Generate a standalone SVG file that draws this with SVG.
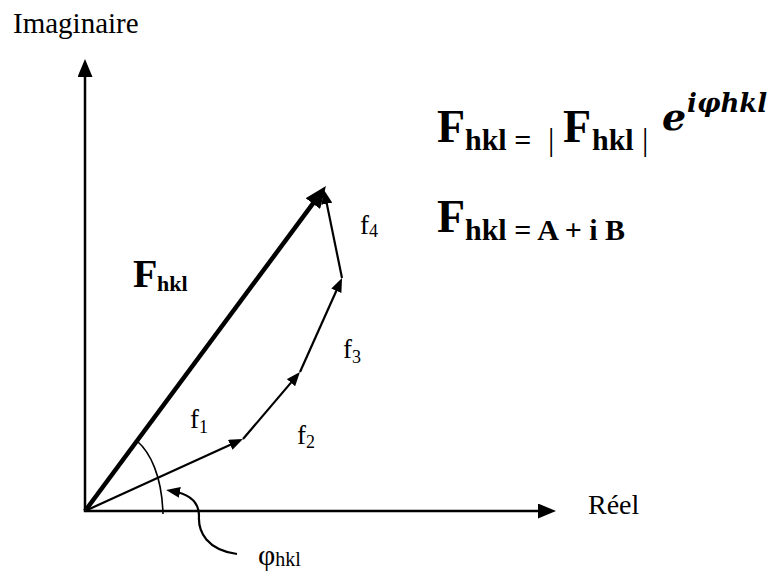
<svg xmlns="http://www.w3.org/2000/svg" width="771" height="573" viewBox="0 0 771 573">
  <style>
    .t { font-family: "Liberation Serif", "Times New Roman", serif; fill: #000; }
    .b { font-weight: bold; }
    .m { font-family: "DejaVu Serif", "Liberation Serif", serif; font-weight: bold; font-style: italic; fill: #000; }
    .ax { stroke: #000; stroke-width: 2.5; fill: none; }
    .v { stroke: #000; stroke-width: 2.2; fill: none; }
    .big { stroke: #000; stroke-width: 4.5; fill: none; }
    .thin { stroke: #000; stroke-width: 1.6; fill: none; }
  </style>
  <defs>
    <marker id="axisHead" markerUnits="userSpaceOnUse" viewBox="0 0 18 15" markerWidth="18" markerHeight="15" refX="10" refY="7.5" orient="auto">
      <path d="M0,0 L18,7.5 L0,15 z" fill="#000"/>
    </marker>
    <marker id="vecHead" markerUnits="userSpaceOnUse" viewBox="0 0 14 11" markerWidth="14" markerHeight="11" refX="8" refY="5.5" orient="auto">
      <path d="M0,0 L14,5.5 L0,11 z" fill="#000"/>
    </marker>
    <marker id="bigHead" markerUnits="userSpaceOnUse" viewBox="0 0 22 18" markerWidth="22" markerHeight="18" refX="14" refY="9" orient="auto">
      <path d="M0,0 L22,9 L0,18 z" fill="#000"/>
    </marker>
    <clipPath id="f3clip"><rect x="330" y="320" width="60" height="43"/></clipPath>
  </defs>

  <g id="axes">
    <line class="ax" x1="85" y1="512" x2="85" y2="67" marker-end="url(#axisHead)"/>
    <line class="ax" x1="84" y1="511" x2="548" y2="511" marker-end="url(#axisHead)"/>
  </g>

  <g id="connectors">
    <line id="Fhkl-vec" class="big" x1="85" y1="511" x2="321.2" y2="192.4" marker-end="url(#bigHead)"/>
    <line id="f1-vec" class="v" x1="85" y1="511" x2="237.5" y2="441.5" marker-end="url(#vecHead)"/>
    <line id="f2-vec" class="v" x1="243" y1="439" x2="296.1" y2="376.6" marker-end="url(#vecHead)"/>
    <line id="f3-vec" class="v" x1="300" y1="372" x2="339.6" y2="283.5" marker-end="url(#vecHead)"/>
    <line id="f4-vec" class="v" x1="342" y1="278" x2="325.2" y2="195.9" marker-end="url(#vecHead)"/>
    <path id="angle-arc" class="thin" d="M137,441 C150,452 162,476 163,514"/>
    <path id="phi-pointer" class="v" d="M237,554 C207,550 198,532 199,516 C199,502 190,494 172,491" marker-end="url(#vecHead)"/>
  </g>

  <g id="label-imaginaire"><text class="t" x="13" y="33" font-size="29">Imaginaire</text></g>
  <g id="label-reel"><text class="t" x="588" y="514" font-size="28">Réel</text></g>

  <g id="label-Fhkl">
    <text class="t b" x="133" y="287" font-size="40">F</text>
    <text class="t b" x="157" y="291" font-size="22">hkl</text>
  </g>

  <g id="label-f1"><text class="t" x="190" y="428" font-size="27">f<tspan font-size="18" dy="5">1</tspan></text></g>
  <g id="label-f2"><text class="t" x="297" y="444" font-size="27">f<tspan font-size="18" dy="4">2</tspan></text></g>
  <g id="label-f3" clip-path="url(#f3clip)"><text class="t" x="343" y="358" font-size="27">f<tspan font-size="18" dy="5">3</tspan></text></g>
  <g id="label-f4"><text class="t" x="360" y="234" font-size="27">f<tspan font-size="18" dy="3">4</tspan></text></g>

  <g id="label-phi">
    <text class="t" x="258" y="565" font-size="30">φ<tspan font-size="20" dy="1">hkl</tspan></text>
  </g>

  <g id="formula-1">
    <text class="t b" x="437" y="142" font-size="46">F</text>
    <text class="t b" x="465" y="150" font-size="30">hkl =</text>
    <text class="t" x="548" y="150" font-size="32">|</text>
    <text class="t b" x="563" y="142" font-size="46">F</text>
    <text class="t b" x="592" y="150" font-size="30">hkl</text>
    <text class="t" x="642" y="150" font-size="32">|</text>
    <text class="m" x="662" y="130" font-size="38">e</text>
    <text class="m" x="687" y="112" font-size="26">iφhkl</text>
  </g>

  <g id="formula-2">
    <text class="t b" x="437" y="232" font-size="46">F</text>
    <text class="t b" x="465" y="240" font-size="30">hkl = A + i B</text>
  </g>
</svg>
